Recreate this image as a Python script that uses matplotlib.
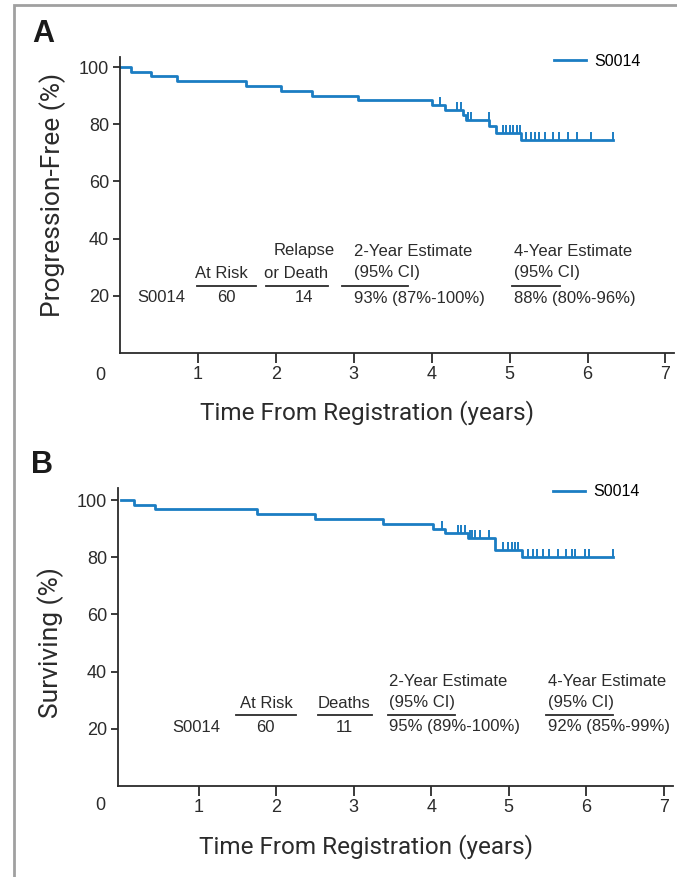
import matplotlib
matplotlib.use('Agg')
import matplotlib.pyplot as plt
from matplotlib.patches import Rectangle
import numpy as np

# Panel A: progression-free survival, S0014
pfs_times = [0, 0.14, 0.40, 0.73, 1.62, 2.07, 2.47, 3.05, 4.01, 4.17, 4.40, 4.44, 4.74, 4.83, 5.15]
pfs_surv = [100, 98.3, 96.7, 95.0, 93.3, 91.7, 90.0, 88.3, 86.7, 85.0, 83.2, 81.4, 79.2, 77.1, 74.4]
pfs_end = 6.33
pfs_censor = [4.11, 4.32, 4.37, 4.47, 4.50, 4.73, 4.91, 4.96, 5.00, 5.04, 5.09, 5.13,
              5.21, 5.28, 5.32, 5.38, 5.45, 5.56, 5.64, 5.75, 5.86, 6.05, 6.33]

# Panel B: overall survival, S0014
os_times = [0, 0.16, 0.44, 1.75, 2.50, 3.38, 4.03, 4.18, 4.47, 4.82, 5.17]
os_surv = [100, 98.3, 96.7, 95.0, 93.3, 91.7, 90.0, 88.3, 86.6, 82.5, 80.0]
os_end = 6.34
os_censor = [4.14, 4.34, 4.38, 4.44, 4.50, 4.53, 4.56, 4.63, 4.74, 4.93, 4.99, 5.04, 5.08, 5.12,
             5.25, 5.31, 5.37, 5.44, 5.52, 5.63, 5.74, 5.82, 5.86, 5.99, 6.03, 6.34]

pfs_table = {'at_risk': '60', 'events': '14', 'est2': '93% (87%-100%)', 'est4': '88% (80%-96%)'}
os_table = {'at_risk': '60', 'events': '11', 'est2': '95% (89%-100%)', 'est4': '92% (85%-99%)'}

W, H = 677, 877
BLUE = '#1b7dc3'
DARK = '#2b2b2b'
NARROW = ['Roboto', 'DejaVu Sans']
SANS = ['Liberation Sans', 'DejaVu Sans']

plt.rcParams['font.family'] = SANS

fig = plt.figure(figsize=(W / 100, H / 100), dpi=100)


def px(x, y):
    return x / W, 1 - y / H


def txt(x, y, s, **kw):
    kw.setdefault('fontsize', 12)
    kw.setdefault('color', DARK)
    fig.text(*px(x, y), s, va='center', **kw)


def hline(x0, x1, y):
    fig.add_artist(plt.Line2D([x0 / W, x1 / W], [1 - y / H, 1 - y / H], color=DARK, lw=1.3))


# grey frame around the figure (runs off the right and bottom edges)
fig.add_artist(Rectangle(px(14, 900), 700 / W, 895 / H, transform=fig.transFigure,
                         fill=False, edgecolor='#a0a0a0', lw=2))


def km_panel(rect, ylim_top, xlim, times, surv, end, censor, ylabel, label_pos):
    ax = fig.add_axes(rect)
    t = list(times) + [end]
    s = list(surv) + [surv[-1]]
    ax.step(t, s, where='post', color=BLUE, lw=2.0)
    cy = [surv[np.searchsorted(times, c, side='right') - 1] for c in censor]
    ax.plot(censor, cy, linestyle='none', marker=2, markersize=5.5, mew=1.4, color=BLUE)
    ax.set_xlim(*xlim)
    ax.set_ylim(0, ylim_top)
    ax.set_xticks(range(1, 8))
    ax.set_yticks([20, 40, 60, 80, 100])
    for sp in ['top', 'right']:
        ax.spines[sp].set_visible(False)
    for sp in ['left', 'bottom']:
        ax.spines[sp].set_color(DARK)
        ax.spines[sp].set_linewidth(1.3)
    ax.tick_params(axis='x', length=7, width=1.3, color=DARK, labelsize=13, labelcolor=DARK, pad=2)
    ax.tick_params(axis='y', length=5, width=1.3, color=DARK, labelsize=13, labelcolor=DARK, pad=3)
    ax.set_xlabel('Time From Registration (years)', fontsize=17.5, family=NARROW, color=DARK)
    ax.set_ylabel(ylabel, fontsize=19, family=NARROW, color=DARK)
    xl, yl = label_pos
    ax.xaxis.set_label_coords(xl, -0.16)
    ax.yaxis.set_label_coords(-0.097, yl)
    ax.legend(['S0014'], loc='upper right', frameon=False, fontsize=11.5, handlelength=2.0,
              handletextpad=0.5, bbox_to_anchor=(0.965, 1.06))
    return ax


axA = km_panel([120 / W, 1 - 353 / H, 554 / W, 296 / H], 103.5, (0, 7.11),
               pfs_times, pfs_surv, pfs_end, pfs_censor, 'Progression-Free (%)', (0.446, 0.534))
axB = km_panel([118 / W, 1 - 786 / H, 555 / W, 298 / H], 104.2, (-0.04, 7.12),
               os_times, os_surv, os_end, os_censor, 'Surviving (%)', (0.446, 0.483))

# shared corner zero
txt(100, 376, '0', fontsize=13, ha='center')
txt(100, 805, '0', fontsize=13, ha='center')

# panel letters
txt(43, 34, 'A', fontsize=22, weight='bold', ha='center', color='#1a1a1a')
txt(42, 465, 'B', fontsize=22, weight='bold', ha='center', color='#1a1a1a')

# panel A table
txt(221, 273, 'At Risk', ha='center')
txt(304, 250, 'Relapse', ha='center')
txt(296, 273, 'or Death', ha='center')
txt(354, 251, '2-Year Estimate', ha='left')
txt(354, 273, '(95% CI)', ha='left')
txt(514, 251, '4-Year Estimate', ha='left')
txt(514, 273, '(95% CI)', ha='left')
hline(197, 256, 286)
hline(266, 328, 286)
hline(342, 408, 286)
hline(512, 560, 286)
txt(137, 298, 'S0014', ha='left')
txt(226, 298, pfs_table['at_risk'], ha='center')
txt(304, 298, pfs_table['events'], ha='center')
txt(354, 298, pfs_table['est2'], ha='left')
txt(514, 298, pfs_table['est4'], ha='left')

# panel B table
txt(266, 703, 'At Risk', ha='center')
txt(344, 703, 'Deaths', ha='center')
txt(389, 681, '2-Year Estimate', ha='left')
txt(389, 703, '(95% CI)', ha='left')
txt(548, 681, '4-Year Estimate', ha='left')
txt(548, 703, '(95% CI)', ha='left')
hline(236, 296, 715)
hline(318, 372, 715)
hline(388, 455, 715)
hline(546, 613, 715)
txt(172, 727, 'S0014', ha='left')
txt(265, 727, os_table['at_risk'], ha='center')
txt(344, 727, os_table['events'], ha='center')
txt(389, 727, os_table['est2'], ha='left')
txt(548, 727, os_table['est4'], ha='left')

fig.savefig('out.png', dpi=100)
